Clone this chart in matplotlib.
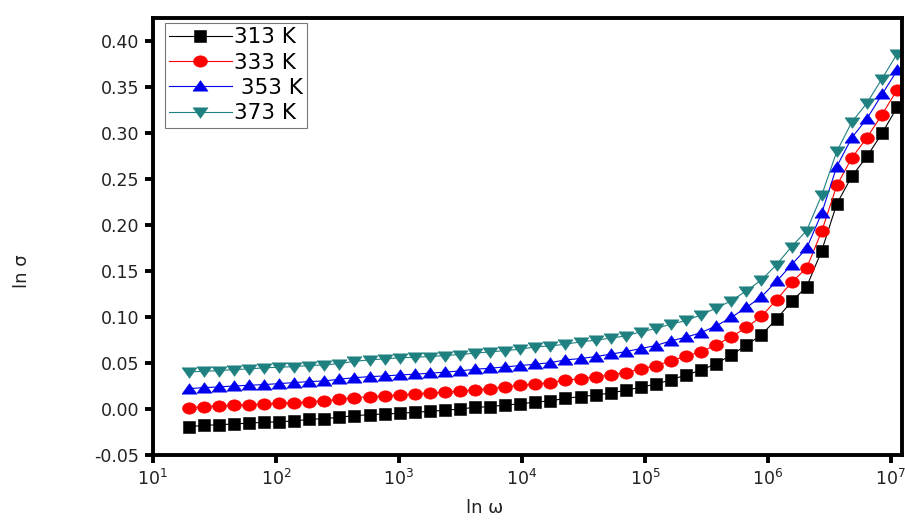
import numpy as np
import matplotlib
matplotlib.use("Agg")
import matplotlib.pyplot as plt
from matplotlib.ticker import MultipleLocator, LogLocator, NullLocator, FormatStrFormatter

plt.rcParams['font.family'] = ['DejaVu Sans']
plt.rcParams['mathtext.fontset'] = 'dejavusans'

# Angular frequency sweep (48 points, log spaced)
omega = np.logspace(1.29, 7.05, 48)

sigma_313 = [-0.0193, -0.0178, -0.0171, -0.0163, -0.0153, -0.0145, -0.0138, -0.0131,
             -0.0112, -0.0105, -0.0090, -0.0072, -0.0062, -0.0054, -0.0047, -0.0036,
             -0.0025, -0.0014, 0.0000, 0.0018, 0.0025, 0.0044, 0.0055, 0.0076,
             0.0087, 0.0117, 0.0134, 0.0152, 0.0174, 0.0204, 0.0236, 0.0272,
             0.0316, 0.0372, 0.0421, 0.0494, 0.0585, 0.0694, 0.0806, 0.0977,
             0.1169, 0.1329, 0.1721, 0.2230, 0.2530, 0.2745, 0.2996, 0.3280]

sigma_333 = [0.0014, 0.0025, 0.0033, 0.0040, 0.0047, 0.0054, 0.0062, 0.0069,
             0.0080, 0.0087, 0.0105, 0.0123, 0.0134, 0.0142, 0.0153, 0.0163,
             0.0174, 0.0182, 0.0193, 0.0207, 0.0221, 0.0240, 0.0259, 0.0269,
             0.0287, 0.0316, 0.0327, 0.0349, 0.0370, 0.0396, 0.0436, 0.0472,
             0.0523, 0.0574, 0.0624, 0.0697, 0.0784, 0.0886, 0.1006, 0.1187,
             0.1376, 0.1533, 0.1932, 0.2430, 0.2730, 0.2950, 0.3200, 0.3470]

sigma_353 = [0.0221, 0.0232, 0.0240, 0.0250, 0.0258, 0.0265, 0.0276, 0.0287,
             0.0298, 0.0305, 0.0324, 0.0340, 0.0352, 0.0359, 0.0370, 0.0378,
             0.0389, 0.0400, 0.0414, 0.0432, 0.0443, 0.0458, 0.0472, 0.0487,
             0.0504, 0.0534, 0.0548, 0.0570, 0.0596, 0.0624, 0.0657, 0.0690,
             0.0741, 0.0780, 0.0831, 0.0904, 0.0995, 0.1104, 0.1220, 0.1387,
             0.1569, 0.1746, 0.2130, 0.2636, 0.2950, 0.3156, 0.3420, 0.3680]

sigma_373 = [0.0403, 0.0410, 0.0417, 0.0428, 0.0436, 0.0447, 0.0454, 0.0461,
             0.0472, 0.0479, 0.0494, 0.0518, 0.0534, 0.0545, 0.0556, 0.0563,
             0.0570, 0.0581, 0.0592, 0.0607, 0.0621, 0.0635, 0.0650, 0.0675,
             0.0686, 0.0704, 0.0730, 0.0748, 0.0770, 0.0795, 0.0839, 0.0875,
             0.0922, 0.0962, 0.1024, 0.1097, 0.1176, 0.1285, 0.1402, 0.1569,
             0.1765, 0.1939, 0.2325, 0.2800, 0.3120, 0.3326, 0.3590, 0.3860]

labels = ["313 K", "333 K", " 353 K", "373 K"]
series = [sigma_313, sigma_333, sigma_353, sigma_373]
colors = ["#000000", "#ff0000", "#0000ee", "#1f8080"]

# Slightly flattened marker shapes
t = np.linspace(0, 2 * np.pi, 40)
ellipse = list(zip(np.cos(t), 0.82 * np.sin(t)))
tri_up = [(-1, -0.62), (1, -0.62), (0, 0.78), (-1, -0.62)]
tri_down = [(-1, 0.62), (1, 0.62), (0, -0.78), (-1, 0.62)]
markers = ["s", ellipse, tri_up, tri_down]
sizes = [8, 10, 10.8, 10.8]

fig = plt.figure(figsize=(9.05, 5.24), dpi=100)
ax = fig.add_axes([0.169, 0.1317, 0.8277, 0.8339])

for y, lab, c, m, s in zip(series, labels, colors, markers, sizes):
    ax.plot(omega, y, color=c, lw=0.8, marker=m, markersize=s,
            markerfacecolor=c, markeredgecolor=c, markeredgewidth=0.4, label=lab)

ax.set_xscale('log')
ax.set_xlim(10, 10 ** 7.09)
ax.set_ylim(-0.05, 0.425)
ax.yaxis.set_major_locator(MultipleLocator(0.05))
ax.yaxis.set_major_formatter(FormatStrFormatter('%.2f'))
ax.xaxis.set_major_locator(LogLocator(base=10, numticks=10))
ax.xaxis.set_minor_locator(NullLocator())

for sp in ax.spines.values():
    sp.set_linewidth(2.8)
ax.tick_params(axis='both', direction='out', length=6, width=2.8, labelsize=12.5,
               labelcolor='#222222')
ax.tick_params(axis='y', pad=4)
ax.tick_params(axis='x', pad=4)

ax.set_xlabel('ln ω', fontsize=13, color='#222222')
ax.set_ylabel('ln σ', fontsize=13, color='#222222')
ax.xaxis.set_label_coords(0.443, -0.1)
ax.yaxis.set_label_coords(-0.163, 0.42)

leg = ax.legend(loc='upper left', bbox_to_anchor=(0.016, 0.989), fontsize=15.5,
                frameon=True, fancybox=False, edgecolor='#555555',
                handlelength=2.9, handletextpad=0.1, labelspacing=0.25,
                borderpad=0.2, borderaxespad=0.0)
leg.get_frame().set_linewidth(0.8)

fig.savefig('out.png', dpi=100)
